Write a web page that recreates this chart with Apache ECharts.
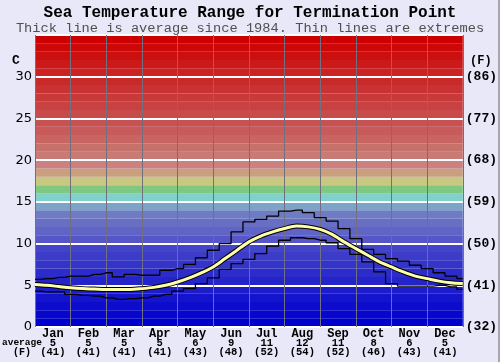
<!DOCTYPE html>
<html>
<head>
<meta charset="utf-8">
<script src="https://cdn.jsdelivr.net/npm/echarts@6/dist/echarts.min.js"></script>
<style>
html,body{margin:0;padding:0;background:#e8e8f8;}
#c{width:500px;height:362px;}
</style>
</head>
<body>
<div id="c"></div>
<script>
// ---- data ----
const months = ['Jan','Feb','Mar','Apr','May','Jun','Jul','Aug','Sep','Oct','Nov','Dec'];
const monthAvgC = [5,5,5,5,6,9,11,12,11,8,6,5];
const monthAvgF = [41,41,41,41,43,48,52,54,52,46,43,41];
// sampled every 1/3 month from start of Jan to end of Dec (37 samples)
const avgTemp = [5.1,5.0,4.85,4.7,4.6,4.55,4.5,4.5,4.5,4.6,4.75,5.0,5.4,5.9,6.5,7.2,8.2,9.2,10.2,10.9,11.4,11.8,12.1,12.0,11.7,11.1,10.2,9.4,8.6,7.8,7.2,6.6,6.1,5.8,5.5,5.3,5.2];
const maxTemp = [5.7,5.8,5.95,6.1,6.1,6.3,6.5,6.0,6.3,6.2,6.2,6.8,7.0,7.5,8.3,9.2,10.0,11.4,12.6,12.9,13.3,13.9,14.0,13.7,13.1,12.7,11.8,10.6,9.3,8.7,8.2,7.9,7.4,7.0,6.5,6.1,5.8];
const minTemp = [4.3,4.2,4.2,3.9,3.8,3.7,3.5,3.3,3.4,3.5,3.7,3.9,4.3,4.6,5.2,5.9,6.9,7.6,8.1,8.8,9.7,10.4,10.7,10.6,10.4,10.1,9.4,8.7,7.8,6.6,5.2,4.9,4.9,4.9,5.0,4.8,4.5];
const yTicksC = [0,5,10,15,20,25,30];

// ---- styles ----
const bandColors = ['#0000cc','#0606cc','#0c0ccc','#1414cc','#1c1ccb','#2424ca','#2c2cca','#3434c9','#3c3cc8','#4444c8',
  '#5656c8','#6064c4','#686ec4','#6e7cc4','#7ca4c8','#80d0cc','#80c880','#c8c880','#c8a080','#cc8080',
  '#c87a74','#c8706a','#c86462','#c85a5a','#c85252','#c84a4a','#c84242','#c83a3a','#c83232','#c82a2a',
  '#cc2222','#cc1a1a','#cc1010','#cc0808','#cc0000'];
const mono = '"Liberation Mono", "DejaVu Sans Mono", monospace';

const toXY = arr => arr.map((v, i) => [i / 3, v]);
const bands = bandColors.map((c, i) => [{yAxis: i, xAxis: 0, itemStyle: {color: c}}, {yAxis: i + 1, xAxis: 12}]);

const chart = echarts.init(document.getElementById('c'), null, {renderer: 'canvas'});
chart.setOption({
  backgroundColor: '#e8e8f8',
  animation: false,
  title: [
    {text: 'Sea Temperature Range for Termination Point', left: 'center', top: 0,
     textStyle: {fontFamily: mono, fontWeight: 'bold', fontSize: 16, color: '#000'}},
    {text: 'Thick line is average since 1984. Thin lines are extremes', left: 'center', top: 16,
     textStyle: {fontFamily: mono, fontWeight: 'normal', fontSize: 13.7, color: '#505050'}}
  ],
  grid: {left: 35, right: 37, top: 35, bottom: 35},
  xAxis: [
    {type: 'value', min: 0, max: 12, interval: 1, z: 5,
     axisLine: {show: false}, axisTick: {show: false}, axisLabel: {show: false},
     splitLine: {show: true, lineStyle: {color: '#707080', width: 1}}},
    {type: 'category', data: months, position: 'bottom', boundaryGap: true,
     axisLine: {show: false}, axisTick: {show: false},
     axisLabel: {margin: 2, interval: 0,
       formatter: (v, i) => '{m|' + v + '}\n{v|' + monthAvgC[i] + '}\n{v|(' + monthAvgF[i] + ')}',
       rich: {
         m: {fontFamily: mono, fontWeight: 'bold', fontSize: 12, color: '#000', lineHeight: 10},
         v: {fontFamily: mono, fontWeight: 'bold', fontSize: 10.5, color: '#000', lineHeight: 9}
       }}}
  ],
  yAxis: [
    {type: 'value', min: 0, max: 35, interval: 5, z: 5, position: 'left',
     axisLine: {show: false}, axisTick: {show: false},
     axisLabel: {margin: 3, fontFamily: '"DejaVu Sans", sans-serif', fontSize: 13, color: '#000',
       formatter: v => yTicksC.includes(v) ? String(v) : ''},
     splitLine: {show: true, lineStyle: {color: '#ffffff', width: 2}}},
    {type: 'value', min: 0, max: 35, interval: 5, position: 'right',
     axisLine: {show: false}, axisTick: {show: false}, splitLine: {show: false},
     axisLabel: {margin: 3, fontFamily: mono, fontWeight: 'bold', fontSize: 13, color: '#000',
       formatter: v => yTicksC.includes(v) ? '(' + Math.round(v * 9 / 5 + 32) + ')' : ''}}
  ],
  series: [
    {type: 'line', data: [], xAxisIndex: 0, yAxisIndex: 0, z: 1, silent: true,
     markArea: {silent: true, data: bands}},
    {type: 'line', data: toXY(maxTemp), step: 'middle', symbol: 'none', z: 10,
     lineStyle: {color: '#000', width: 1.3}},
    {type: 'line', data: toXY(minTemp), step: 'middle', symbol: 'none', z: 10,
     lineStyle: {color: '#000', width: 1.3}},
    {type: 'line', data: toXY(avgTemp), smooth: 0.3, symbol: 'none', z: 11,
     lineStyle: {color: '#000', width: 5}},
    {type: 'line', data: toXY(avgTemp), smooth: 0.3, symbol: 'none', z: 12,
     lineStyle: {color: '#ffffa8', width: 3}}
  ],
  graphic: [
    {type: 'text', left: 12, top: 54, style: {text: 'C', font: 'bold 13px ' + mono, fill: '#000'}},
    {type: 'text', left: 470, top: 55, style: {text: '(F)', font: 'bold 12px ' + mono, fill: '#000'}},
    {type: 'text', left: 2, top: 338, style: {text: 'average', font: 'bold 9.5px ' + mono, fill: '#000'}},
    {type: 'text', left: 13, top: 347, style: {text: '(F)', font: 'bold 10px ' + mono, fill: '#000'}},
    {type: 'line', shape: {x1: 499, y1: 0, x2: 499, y2: 362}, style: {stroke: '#666', lineWidth: 1}}
  ]
});
</script>
</body>
</html>
